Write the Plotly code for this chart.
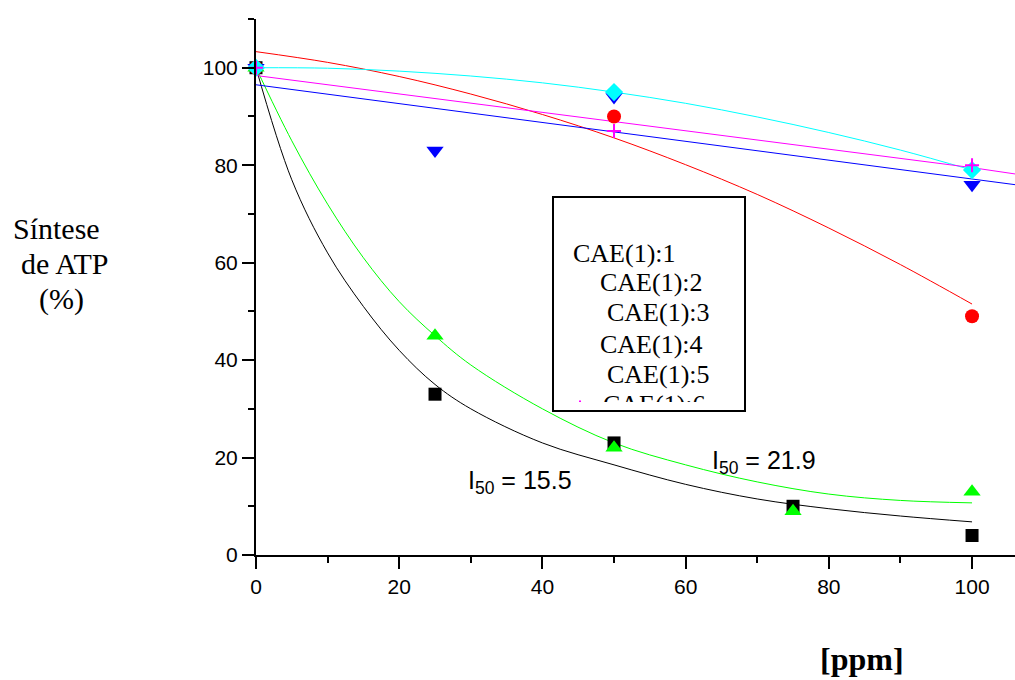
import plotly.graph_objects as go

# ---------------- data ----------------
x_pts = [0, 25, 50, 75, 100]
y_cae1 = [100, 33, 23, 10, 4]          # black squares
y_cae3 = [100, 45, 22, 9, 13]          # green triangles
x_cae2 = [0, 50, 100]
y_cae2 = [100, 90, 49]                 # red circles
x_cae4 = [0, 25, 50, 100]
y_cae4 = [100, 83, 94, 76]             # blue down-triangles
x_cae5 = [0, 50, 100]
y_cae5 = [100, 95, 79]                 # cyan diamonds
x_cae6 = [0, 50, 100]
y_cae6 = [100, 87, 80]                 # magenta crosses

# fitted curves
fit_x = [0, 5, 10, 15, 20, 25, 30, 40, 50, 60, 70, 80, 90, 100]
fit_black = [100, 77, 62, 51, 42, 35, 30, 23, 18.5, 14.5, 11.5, 9.5, 8.0, 6.8]
fit_green = [100, 85, 72, 61, 52, 45, 39, 30, 23, 18.5, 15, 12.5, 11.2, 10.7]
fit_red_x = [0, 10, 20, 30, 40, 50, 60, 70, 80, 90, 100]
fit_red = [103.3, 101.1, 98.2, 94.6, 90.4, 85.6, 80.1, 74.0, 67.1, 59.6, 51.5]
fit_cyan_x = [0, 10, 20, 30, 40, 50, 60, 70, 80, 90, 100]
fit_cyan = [100, 99.9, 99.3, 98.3, 96.9, 95.0, 92.7, 89.9, 86.7, 83.1, 79.0]
fit_mag_x = [0, 50, 100, 106]
fit_mag = [98.4, 89.0, 79.5, 78.2]
fit_blue_x = [0, 50, 100, 106]
fit_blue = [96.5, 86.9, 77.2, 76.0]

legend_labels = ["CAE(1):1", "CAE(1):2", "CAE(1):3", "CAE(1):4", "CAE(1):5", "CAE(1):6"]

# ---------------- layout helpers ----------------
W, H = 1015, 680
L, R, T, B = 256, 0, 19, 125
PW, PH = W - L - R, H - T - B

def px(xp):
    return (xp - L) / PW

def py(yp):
    return (H - B - yp) / PH

BLACK, RED, GREEN, BLUE, CYAN, MAG = "#000000", "#FF0000", "#00FF00", "#0000FF", "#00FFFF", "#FF00FF"

fig = go.Figure()

def line(x, y, c, shape="spline"):
    fig.add_trace(go.Scatter(x=x, y=y, mode="lines", line=dict(color=c, width=1, shape=shape),
                             showlegend=False, hoverinfo="skip", cliponaxis=True))

line(fit_x, fit_black, BLACK)
line(fit_x, fit_green, GREEN)
line(fit_red_x, fit_red, RED)
line(fit_cyan_x, fit_cyan, CYAN)
line(fit_mag_x, fit_mag, MAG, "linear")
line(fit_blue_x, fit_blue, BLUE, "linear")

def pts(x, y, c, sym, size, lw=0):
    fig.add_trace(go.Scatter(x=x, y=y, mode="markers", cliponaxis=False, showlegend=False,
                             marker=dict(symbol=sym, size=size, color=c,
                                         line=dict(width=lw, color=c))))

pts(x_pts, y_cae1, BLACK, "square", 13)
pts(x_cae2, y_cae2, RED, "circle", 14)
pts(x_pts, y_cae3, GREEN, "triangle-up", 15)
pts(x_cae4, y_cae4, BLUE, "triangle-down", 15)
pts(x_cae5, y_cae5, CYAN, "diamond", 14)
pts(x_cae6, y_cae6, MAG, "cross-thin", 10, 2)

# legend box text (clipped by its own small subplot)
leg_x = [573, 600, 607, 600, 607, 603]
leg_y = [255, 284, 314, 346, 376, 406]
bx0, bx1, by0, by1 = 553, 745, 197, 411
clip_bottom = 402
fig.add_trace(go.Scatter(
    x=[(v - bx0) / (bx1 - bx0) for v in leg_x],
    y=[(clip_bottom - v) / (clip_bottom - by0) for v in leg_y],
    text=legend_labels, mode="text", textposition="middle right",
    textfont=dict(family="Liberation Serif, Times New Roman, serif", size=26, color="black"),
    xaxis="x2", yaxis="y2", cliponaxis=True, showlegend=False, hoverinfo="skip"))
# tiny legend symbol peeking above the clip line
fig.add_trace(go.Scatter(
    x=[(580 - bx0) / (bx1 - bx0)], y=[(clip_bottom - 406) / (clip_bottom - by0)],
    mode="markers", marker=dict(symbol="cross-thin", size=8, color=MAG, line=dict(width=2, color=MAG)),
    xaxis="x2", yaxis="y2", cliponaxis=True, showlegend=False, hoverinfo="skip"))

axis_font = dict(family="Liberation Sans, Arial, sans-serif", size=21, color="black")
fig.update_layout(
    width=W, height=H, margin=dict(l=L, r=R, t=T, b=B),
    paper_bgcolor="white", plot_bgcolor="white", showlegend=False,
    xaxis=dict(range=[0, 106], tickmode="linear", tick0=0, dtick=20, ticks="outside",
               ticklen=12, tickwidth=2, tickcolor="black", showline=True, linewidth=2,
               linecolor="black", showgrid=False, zeroline=False, tickfont=axis_font,
               minor=dict(dtick=10, tick0=0, ticks="outside", ticklen=6, tickwidth=2,
                          tickcolor="black", showgrid=False)),
    yaxis=dict(range=[0, 110], tickmode="linear", tick0=0, dtick=20, ticks="outside",
               ticklen=12, tickwidth=2, tickcolor="black", showline=True, linewidth=2,
               linecolor="black", showgrid=False, zeroline=False, tickfont=axis_font,
               minor=dict(dtick=10, tick0=0, ticks="outside", ticklen=6, tickwidth=2,
                          tickcolor="black", showgrid=False)),
    xaxis2=dict(domain=[px(bx0), px(bx1)], range=[0, 1], visible=False, anchor="y2"),
    yaxis2=dict(domain=[py(clip_bottom), py(by0)], range=[0, 1], visible=False, anchor="x2"),
)

# legend frame
fig.add_shape(type="rect", xref="paper", yref="paper",
              x0=px(bx0), x1=px(bx1), y0=py(by1), y1=py(by0),
              line=dict(color="black", width=2), fillcolor="rgba(0,0,0,0)", layer="above")

serif = "Liberation Serif, Times New Roman, serif"
ann = [
    dict(text="Síntese", x=px(56), y=py(228)),
    dict(text="de ATP", x=px(65), y=py(263)),
    dict(text="(%)", x=px(61), y=py(299)),
]
for a in ann:
    fig.add_annotation(xref="paper", yref="paper", x=a["x"], y=a["y"], text=a["text"],
                       showarrow=False, xanchor="center", yanchor="middle",
                       font=dict(family=serif, size=30, color="black"))

fig.add_annotation(xref="paper", yref="paper", x=px(862), y=py(659), text="<b>[ppm]</b>",
                   showarrow=False, xanchor="center", yanchor="middle",
                   font=dict(family=serif, size=32, color="black"))

sans = "Liberation Sans, Arial, sans-serif"
fig.add_annotation(xref="paper", yref="paper", x=px(466), y=py(482),
                   text="I<sub>50</sub> = 15.5", showarrow=False, xanchor="left",
                   yanchor="middle", font=dict(family=sans, size=25, color="black"))
fig.add_annotation(xref="paper", yref="paper", x=px(710), y=py(462),
                   text="I<sub>50</sub> = 21.9", showarrow=False, xanchor="left",
                   yanchor="middle", font=dict(family=sans, size=25, color="black"))

fig.write_html("out.html")
